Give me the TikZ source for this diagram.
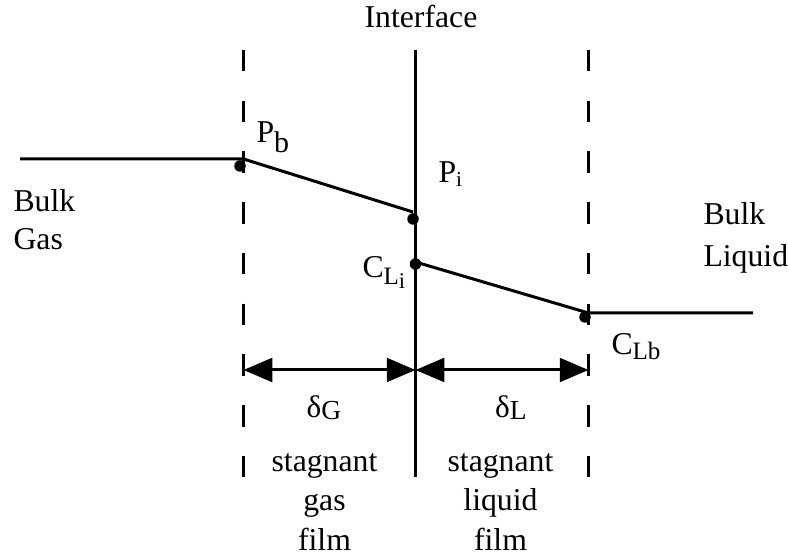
\documentclass[tikz,border=0pt]{standalone}
\usepackage{fontspec}
\setmainfont{Liberation Serif}
\usetikzlibrary{arrows.meta}

\newcommand{\lowsub}[3]{\raisebox{-#1}{\fontsize{#2}{#2}\selectfont #3}}

\begin{document}
\begin{tikzpicture}[
  x=0.4pt, y=-0.4pt,
  font=\fontsize{12.7}{15}\selectfont,
  >={Triangle[length=11.5pt,width=9.5pt]},
  tag/.style={inner sep=0pt, anchor=base west},
  word/.style={inner sep=0pt, anchor=base},
  film/.style={dash pattern=on 8.6pt off 11.7pt, line width=1.2pt},
  profile/.style={line width=1.2pt},
  spot/.style={circle, fill, inner sep=0pt, minimum size=4.6pt},
  gauge/.style={<->, line width=1.2pt}
]
\useasboundingbox (0,0) rectangle (788,558);

% Film boundaries and interface
\coordinate (gtop) at (243.5,50);
\coordinate (gbot) at (243.5,477);
\coordinate (ltop) at (588.5,50);
\coordinate (lbot) at (588.5,477);
\coordinate (itop) at (415.5,50);
\coordinate (ibot) at (415.5,477);
\draw[film] (gtop) -- (gbot);
\draw[film] (ltop) -- (lbot);
\draw[profile] (itop) -- (ibot);
\node[word] (iface) at (421,28) {Interface};

% Concentration profiles
\coordinate (gasend) at (20,159);
\coordinate (pb) at (243.5,159);
\coordinate (pi) at (413,212);
\coordinate (cli) at (415.5,262);
\coordinate (clb) at (588.5,313);
\coordinate (liqend) at (753,313);
\draw[profile] (gasend) -- (pb) -- (pi);
\draw[profile] (cli) -- (clb) -- (liqend);

\node[spot] (pbdot) at (240,166) {};
\node[spot] (pidot) at (413,219) {};
\node[spot] (clidot) at (415.5,264) {};
\node[spot] (clbdot) at (585,317) {};

\node[tag] (pbl) at (256,143) {P\lowsub{4pt}{12pt}{b}};
\node[tag] (pil) at (438,183) {P\lowsub{1.6pt}{8.5pt}{i}};
\node[tag] (clil) at (362,278) {C\lowsub{2.8pt}{10pt}{L\lowsub{1.6pt}{9pt}{i}}};
\node[tag] (clbl) at (611,355) {C\lowsub{2pt}{10pt}{Lb}};

% Bulk phases
\node[tag] (bulkg) at (13,212) {Bulk};
\node[tag] (gasw) at (13,250) {Gas};
\node[tag] (bulkl) at (703,225) {Bulk};
\node[tag] (liqw) at (703,267) {Liquid};

% Film thicknesses
\coordinate (dleft) at (243.5,370);
\coordinate (dmid) at (415.5,370);
\coordinate (dright) at (588.5,370);
\draw[gauge] (dleft) -- (dmid);
\draw[gauge] (dmid) -- (dright);
\node[word] (dg) at (324,418) {{\fontsize{12.5}{14}\selectfont δ}\lowsub{0.5pt}{11pt}{G}};
\node[word] (dl) at (511,418) {{\fontsize{12.5}{14}\selectfont δ}\lowsub{0.5pt}{11pt}{L}};

\node[word] (sg1) at (324.5,472) {stagnant};
\node[word] (sg2) at (324.5,511) {gas};
\node[word] (sg3) at (324.5,551) {film};
\node[word] (sl1) at (500.5,472) {stagnant};
\node[word] (sl2) at (500.5,511) {liquid};
\node[word] (sl3) at (500.5,551) {film};
\end{tikzpicture}
\end{document}
